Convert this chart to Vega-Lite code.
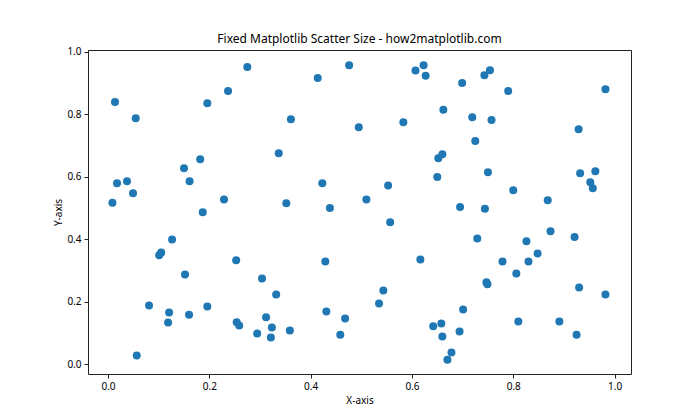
{
  "$schema": "https://vega.github.io/schema/vega-lite/v6.json",
  "width": 543,
  "height": 324,
  "autosize": {"type": "none"},
  "padding": {"left": 88, "top": 50, "right": 69, "bottom": 46},
  "background": "white",
  "title": {"text": "Fixed Matplotlib Scatter Size - how2matplotlib.com", "font": "Noto Sans", "fontSize": 12, "fontWeight": "normal", "color": "black", "offset": 1},
  "config": {
    "view": {"stroke": "#222", "strokeWidth": 1},
    "axis": {"grid": false, "domain": false, "tickColor": "#222", "tickSize": 4, "labelColor": "black", "labelFont": "Noto Sans", "labelFontSize": 10, "titleFont": "Noto Sans", "titleFontSize": 10, "titleFontWeight": "normal", "titleColor": "black", "labelPadding": 3}
  },
  "data": {"values": [
    {"x":0.0138,"y":0.839},{"x":0.0547,"y":0.787},{"x":0.196,"y":0.835},{"x":0.182,"y":0.656},{"x":0.150,"y":0.627},
    {"x":0.161,"y":0.585},{"x":0.0178,"y":0.579},{"x":0.0375,"y":0.585},{"x":0.0494,"y":0.547},{"x":0.0087,"y":0.516},
    {"x":0.229,"y":0.527},{"x":0.187,"y":0.486},{"x":0.237,"y":0.874},{"x":0.275,"y":0.951},{"x":0.476,"y":0.957},
    {"x":0.414,"y":0.916},{"x":0.361,"y":0.784},{"x":0.495,"y":0.758},{"x":0.337,"y":0.675},{"x":0.423,"y":0.579},
    {"x":0.352,"y":0.515},{"x":0.438,"y":0.4995},{"x":0.623,"y":0.957},{"x":0.607,"y":0.940},{"x":0.627,"y":0.923},
    {"x":0.754,"y":0.941},{"x":0.743,"y":0.925},{"x":0.699,"y":0.900},{"x":0.662,"y":0.814},{"x":0.583,"y":0.774},
    {"x":0.719,"y":0.790},{"x":0.757,"y":0.781},{"x":0.725,"y":0.7145},{"x":0.660,"y":0.672},{"x":0.652,"y":0.659},
    {"x":0.650,"y":0.599},{"x":0.750,"y":0.614},{"x":0.553,"y":0.572},{"x":0.510,"y":0.527},{"x":0.695,"y":0.503},
    {"x":0.744,"y":0.497},{"x":0.790,"y":0.874},{"x":0.982,"y":0.880},{"x":0.929,"y":0.752},{"x":0.932,"y":0.611},
    {"x":0.962,"y":0.617},{"x":0.952,"y":0.582},{"x":0.957,"y":0.563},{"x":0.800,"y":0.556},{"x":0.868,"y":0.524},
    {"x":0.1265,"y":0.399},{"x":0.105,"y":0.357},{"x":0.101,"y":0.348},{"x":0.152,"y":0.287},{"x":0.081,"y":0.187},
    {"x":0.1206,"y":0.165},{"x":0.1186,"y":0.133},{"x":0.160,"y":0.158},{"x":0.196,"y":0.184},{"x":0.0567,"y":0.027},
    {"x":0.253,"y":0.332},{"x":0.429,"y":0.3285},{"x":0.304,"y":0.274},{"x":0.332,"y":0.2226},{"x":0.431,"y":0.168},
    {"x":0.468,"y":0.1456},{"x":0.312,"y":0.150},{"x":0.254,"y":0.134},{"x":0.259,"y":0.123},{"x":0.3235,"y":0.117},
    {"x":0.359,"y":0.107},{"x":0.2945,"y":0.0975},{"x":0.3215,"y":0.085},{"x":0.4585,"y":0.094},{"x":0.557,"y":0.4536},
    {"x":0.729,"y":0.402},{"x":0.6166,"y":0.335},{"x":0.747,"y":0.262},{"x":0.749,"y":0.255},{"x":0.5435,"y":0.2355},
    {"x":0.535,"y":0.1938},{"x":0.701,"y":0.1745},{"x":0.642,"y":0.121},{"x":0.658,"y":0.1296},{"x":0.660,"y":0.088},
    {"x":0.694,"y":0.104},{"x":0.678,"y":0.0366},{"x":0.670,"y":0.014},{"x":0.8735,"y":0.425},{"x":0.921,"y":0.4065},
    {"x":0.826,"y":0.3927},{"x":0.848,"y":0.354},{"x":0.7787,"y":0.3285},{"x":0.830,"y":0.3285},{"x":0.806,"y":0.290},
    {"x":0.930,"y":0.245},{"x":0.982,"y":0.2226},{"x":0.810,"y":0.136},{"x":0.891,"y":0.136},{"x":0.925,"y":0.094}
  ]},
  "mark": {"type": "circle", "size": 64, "color": "#1f77b4", "opacity": 1},
  "encoding": {
    "x": {"field": "x", "type": "quantitative", "title": "X-axis", "scale": {"domain": [-0.0395, 1.0324], "nice": false, "zero": false}, "axis": {"values": [0, 0.2, 0.4, 0.6, 0.8, 1.0], "format": ".1f", "titlePadding": 4}},
    "y": {"field": "y", "type": "quantitative", "title": "Y-axis", "scale": {"domain": [-0.032, 1.0055], "nice": false, "zero": false}, "axis": {"values": [0, 0.2, 0.4, 0.6, 0.8, 1.0], "format": ".1f", "titleX": -30, "titleBaseline": "middle"}}
  }
}
